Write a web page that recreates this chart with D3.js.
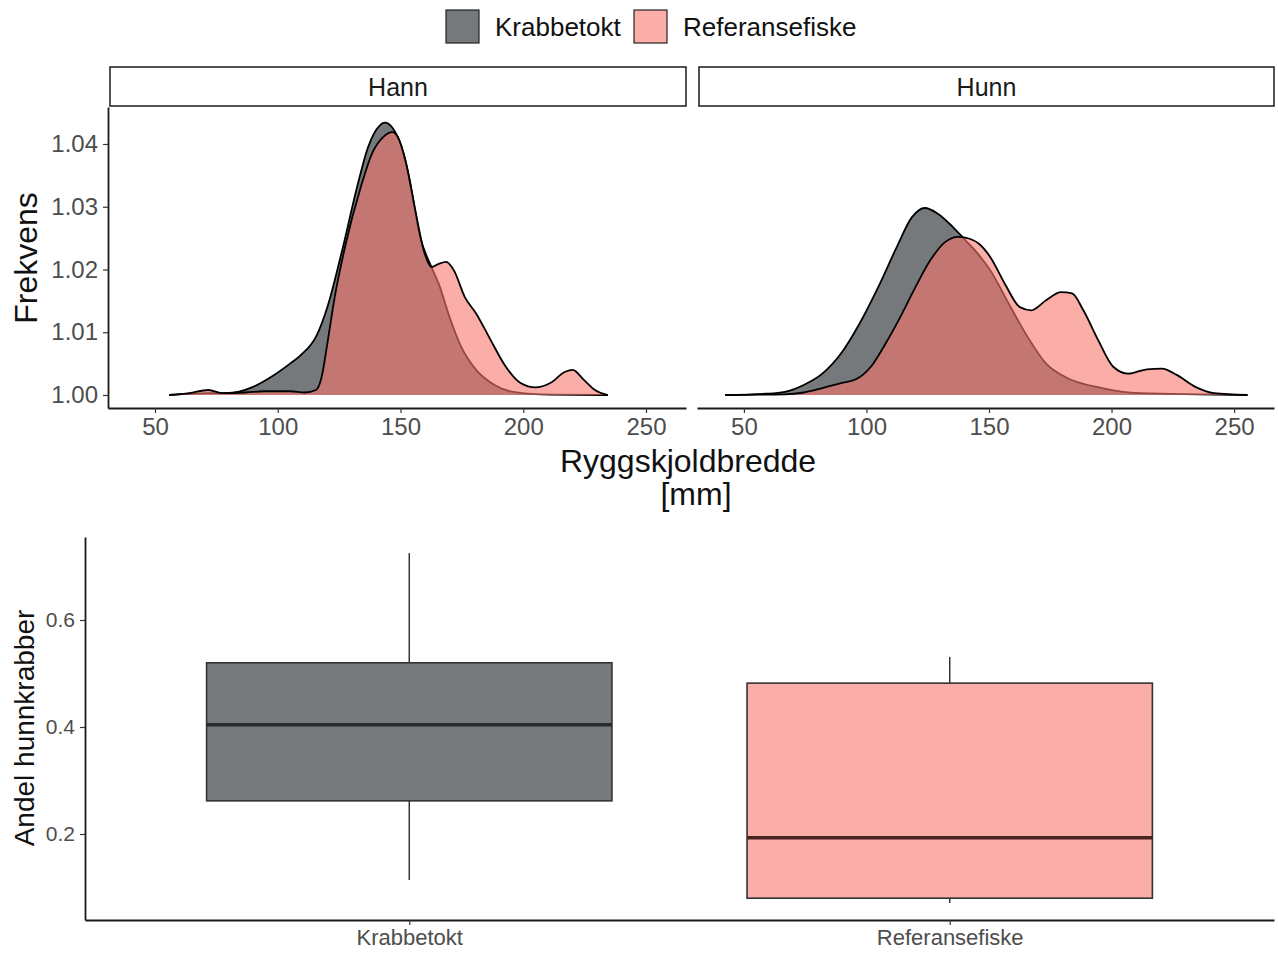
<!DOCTYPE html>
<html><head><meta charset="utf-8">
<script src="https://cdn.jsdelivr.net/npm/d3@7"></script>
<style>body{margin:0;background:#fff;} text{font-family:"Liberation Sans",Arial,sans-serif;}</style>
</head><body>
<svg id="c" width="1278" height="954"></svg>
<script>
// ---------- DATA ----------
const groups = ["Krabbetokt", "Referansefiske"];
const panels = ["Hann", "Hunn"];
const xTicks = [50, 100, 150, 200, 250];
const yTicksTop = [1.00, 1.01, 1.02, 1.03, 1.04];
const yTicksBox = [0.2, 0.4, 0.6];

// Ridge densities (x = carapace width mm, d = density above baseline 1)
const hannKrabbeX = [55.8,71.7,79,90,97.4,105,109.5,115.6,120.2,126.2,132.3,136.8,141.4,143.6,146.7,150.5,153.5,158,162.6,165.6,170,174.7,180.8,188.3,195.9,211,234.5];
const hannKrabbeD = [0,0.0003,0.0003,0.0013,0.0029,0.005,0.0064,0.0093,0.014,0.023,0.0331,0.0395,0.0429,0.0434,0.0426,0.0395,0.0347,0.0252,0.0204,0.0177,0.0124,0.0077,0.004,0.0016,0.0005,0.00005,0];
const hannRefX = [55.8,64,71.7,77.7,86.8,94.4,105,111,115.6,117.9,120.2,123.2,127.7,133.8,138.3,142.9,146.7,148.9,152,155.8,159.5,162.6,165.6,168.6,171.7,176.2,180.8,186.8,192.9,198.9,205,211,217.1,220.1,224.7,229.2,234.5];
const hannRefD = [0,0.0003,0.0008,0.0003,0.0004,0.0006,0.0006,0.0004,0.0008,0.0029,0.0082,0.0156,0.0241,0.0331,0.0384,0.0411,0.0419,0.0411,0.0374,0.0299,0.023,0.0204,0.0209,0.0212,0.0199,0.0156,0.013,0.0087,0.0045,0.0019,0.0012,0.0019,0.0037,0.004,0.0024,0.0008,0];
const hunnKrabbeX = [42.4,59,66.7,74.4,82,89.6,97.2,104.8,112.4,118.5,123.8,129.1,135.2,139.8,144.4,150.5,158,165.7,173.3,180.9,196.1,211.3,255.5];
const hunnKrabbeD = [0,0.0002,0.0005,0.0016,0.0034,0.0066,0.0114,0.0172,0.0236,0.0283,0.0298,0.0289,0.0268,0.0249,0.023,0.0199,0.0146,0.0093,0.005,0.0029,0.0011,0.0003,0];
const hunnRefX = [42.4,66.7,74.4,82,89.6,95.7,101.8,107.8,113.9,120,126.1,132.2,137.5,142.1,145.9,150.5,156.5,162.6,167.2,173.3,179.4,183.9,188.5,194.6,200.7,206.8,214.4,220.5,226.6,234.2,241.8,255.5];
const hunnRefD = [0,0.0001,0.0004,0.0011,0.0019,0.0025,0.0045,0.0082,0.0125,0.0172,0.0215,0.0244,0.0252,0.0249,0.0241,0.022,0.0177,0.014,0.0135,0.0151,0.0164,0.0162,0.0135,0.0087,0.0045,0.0034,0.0041,0.0042,0.0032,0.0013,0.0003,0];

// Box plot stats: [whiskerLow, Q1, median, Q3, whiskerHigh]
const boxKrabbetokt = [0.114, 0.262, 0.404, 0.520, 0.725];
const boxReferansefiske = [0.071, 0.080, 0.193, 0.482, 0.531];

// ---------- STYLE ----------
const greyFill = "#76797c";
const salmon = "#F8766D";
const salmonAlpha = 0.6;
const tickGrey = "#4d4d4d";
const FF = "Liberation Sans, Arial, sans-serif";

const svg = d3.select("#c");

// ---------- LEGEND ----------
const leg = svg.append("g");
const legItems = [{name: groups[0], x: 446, fill: greyFill, op: 1}, {name: groups[1], x: 634, fill: salmon, op: salmonAlpha}];
legItems.forEach(it => {
  leg.append("rect").attr("x", it.x).attr("y", 10).attr("width", 33).attr("height", 33)
    .attr("fill", it.fill).attr("fill-opacity", it.op).attr("stroke", "#222").attr("stroke-width", 1.2);
  leg.append("text").attr("x", it.x + 49).attr("y", 27).attr("dy", "0.35em")
    .attr("font-size", 26).attr("fill", "#111").text(it.name);
});

// ---------- TOP: ridge densities ----------
const yTop = d3.scaleLinear().domain([1 - 13/6275, 1 + 288/6275]).range([408, 107]);
const panelRanges = [[108, 686], [697, 1274]];
const xDomain = [50 - 47/2.455, 250 + 40/2.455];
const panelData = [
  [{x: hannKrabbeX, d: hannKrabbeD}, {x: hannRefX, d: hannRefD}],
  [{x: hunnKrabbeX, d: hunnKrabbeD}, {x: hunnRefX, d: hunnRefD}]
];

function styleAxis(a, fs) {
  a.select(".domain").attr("stroke", "#1a1a1a").attr("stroke-width", 1.8);
  a.selectAll(".tick line").attr("stroke", "#333").attr("stroke-width", 1.2);
  a.selectAll(".tick text").attr("font-size", fs).attr("fill", tickGrey).style("font-family", FF);
}

panels.forEach((p, i) => {
  const [x0, x1] = panelRanges[i];
  const xs = d3.scaleLinear().domain(xDomain).range([x0, x1]);
  const g = svg.append("g");
  // strip
  g.append("rect").attr("x", x0 + 2).attr("y", 67).attr("width", x1 - x0 - 2).attr("height", 39)
    .attr("fill", "#fff").attr("stroke", "#1a1a1a").attr("stroke-width", 1.5);
  g.append("text").attr("x", (x0 + x1) / 2 + 1).attr("y", 87).attr("dy", "0.35em")
    .attr("text-anchor", "middle").attr("font-size", 25).attr("fill", "#1a1a1a").text(p);

  const area = d3.area().curve(d3.curveMonotoneX)
    .x(v => xs(v[0])).y0(yTop(1)).y1(v => yTop(1 + v[1]));
  const line = d3.line().curve(d3.curveMonotoneX)
    .x(v => xs(v[0])).y(v => yTop(1 + v[1]));
  panelData[i].forEach((s, j) => {
    const pts = s.x.map((xv, k) => [xv, s.d[k]]);
    g.append("path").datum(pts).attr("d", area)
      .attr("fill", j === 0 ? greyFill : salmon).attr("fill-opacity", j === 0 ? 1 : salmonAlpha);
    g.append("path").datum(pts).attr("d", line)
      .attr("fill", "none").attr("stroke", "#000").attr("stroke-width", 1.8);
  });

  const ax = g.append("g").attr("transform", "translate(0,408)")
    .call(d3.axisBottom(xs).tickValues(xTicks).tickSize(5).tickPadding(5).tickSizeOuter(0));
  styleAxis(ax, 24);

  if (i === 0) {
    const ay = g.append("g").attr("transform", `translate(${x0},0)`)
      .call(d3.axisLeft(yTop).tickValues(yTicksTop).tickFormat(d3.format(".2f")).tickSize(5).tickPadding(5).tickSizeOuter(0));
    styleAxis(ay, 24);
  }
});

svg.append("text").attr("transform", "translate(37,258) rotate(-90)").attr("text-anchor", "middle")
  .attr("font-size", 32).attr("fill", "#111").text("Frekvens");
svg.append("text").attr("x", 688).attr("y", 472).attr("text-anchor", "middle")
  .attr("font-size", 32).attr("fill", "#111").text("Ryggskjoldbredde");
svg.append("text").attr("x", 696).attr("y", 505).attr("text-anchor", "middle")
  .attr("font-size", 32).attr("fill", "#111").text("[mm]");

// ---------- BOTTOM: box plot ----------
const yBox = d3.scaleLinear().domain([(941 - 920) / 535, (941 - 537) / 535]).range([920, 537]);
const xBox = d3.scalePoint().domain(groups).range([85, 1274]).padding(0.6);
const bw = xBox.step() * 0.75;
const boxData = [boxKrabbetokt, boxReferansefiske];
const bg = svg.append("g");
groups.forEach((gname, i) => {
  const s = boxData[i];
  const cx = xBox(gname);
  bg.append("line").attr("x1", cx).attr("x2", cx).attr("y1", yBox(s[0])).attr("y2", yBox(s[1]))
    .attr("stroke", "#333").attr("stroke-width", 1.5);
  bg.append("line").attr("x1", cx).attr("x2", cx).attr("y1", yBox(s[3])).attr("y2", yBox(s[4]))
    .attr("stroke", "#333").attr("stroke-width", 1.5);
  bg.append("rect").attr("x", cx - bw / 2).attr("width", bw)
    .attr("y", yBox(s[3])).attr("height", yBox(s[1]) - yBox(s[3]))
    .attr("fill", i === 0 ? greyFill : salmon).attr("fill-opacity", i === 0 ? 1 : salmonAlpha)
    .attr("stroke", "#333").attr("stroke-width", 1.6);
  bg.append("line").attr("x1", cx - bw / 2).attr("x2", cx + bw / 2).attr("y1", yBox(s[2])).attr("y2", yBox(s[2]))
    .attr("stroke", i === 0 ? "#2a2a2a" : "#4a2422").attr("stroke-width", 3.5);
});
const bx = bg.append("g").attr("transform", "translate(0,920)")
  .call(d3.axisBottom(xBox).tickSize(5).tickPadding(4).tickSizeOuter(0));
styleAxis(bx, 22);
const by = bg.append("g").attr("transform", "translate(85,0)")
  .call(d3.axisLeft(yBox).tickValues(yTicksBox).tickFormat(d3.format(".1f")).tickSize(5).tickPadding(5).tickSizeOuter(0));
styleAxis(by, 21);
svg.append("text").attr("transform", "translate(34,728) rotate(-90)").attr("text-anchor", "middle")
  .attr("font-size", 28).attr("fill", "#111").text("Andel hunnkrabber");
</script>
</body></html>
